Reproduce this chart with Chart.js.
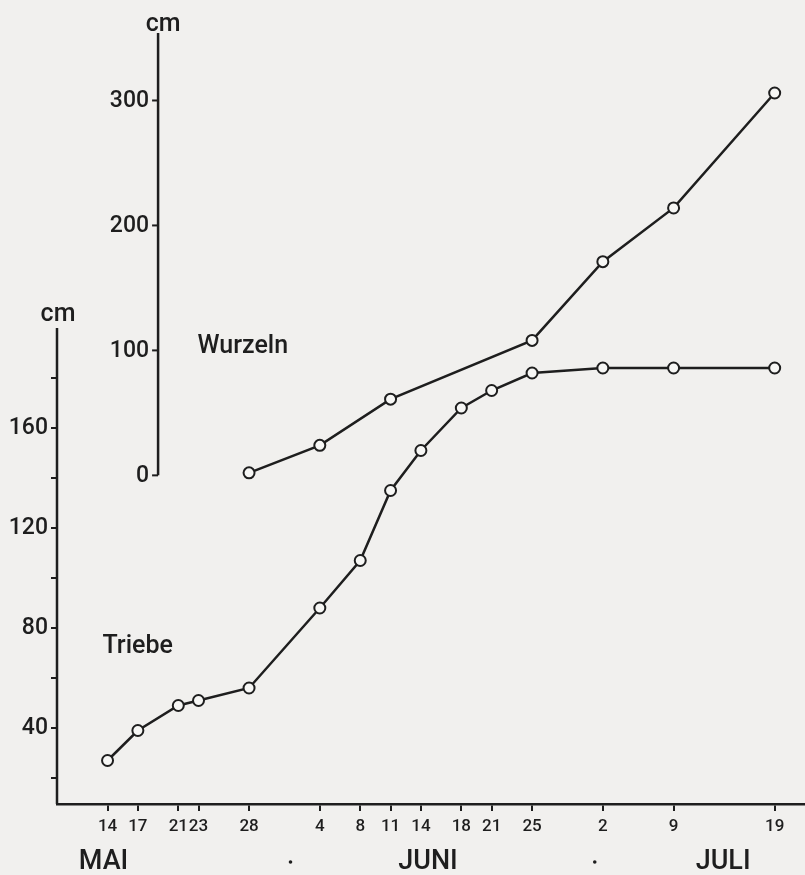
<!DOCTYPE html>
<html>
<head>
<meta charset="utf-8">
<script src="https://cdn.jsdelivr.net/npm/chart.js@4/dist/chart.umd.min.js"></script>
<style>
  html, body { margin: 0; padding: 0; background: #f1f0ee; }
  #wrap { width: 805px; height: 875px; position: relative; }
</style>
</head>
<body>
<div id="wrap"><canvas id="growthChart"></canvas></div>
<script>
// days counted from 14 May
const triebeDays = [0, 3, 7, 9, 14, 21, 25, 28, 31, 35, 38, 42, 49, 56, 66];
const triebeValues = [27, 39, 49, 51, 56, 88, 107, 135, 151, 168, 175, 182, 184, 184, 184];
const wurzelnDays = [14, 21, 28, 42, 49, 56, 66];
const wurzelnValues = [2, 24, 61, 108, 171, 214, 306];

const xTickDays = [0, 3, 7, 9, 14, 21, 25, 28, 31, 35, 38, 42, 49, 56, 66];
const xTickLabels = ['14', '17', '21', '23', '28', '4', '8', '11', '14', '18', '21', '25', '2', '9', '19'];
const monthNames = ['MAI', 'JUNI', 'JULI'];
const monthCenters = [-0.4, 31.7, 60.9];
const monthDots = [18.1, 48.2];

const leftTicks = [20, 40, 60, 80, 100, 120, 140, 160, 180];
const leftLabels = [40, 80, 120, 160];
const rightTicks = [0, 100, 200, 300];

const ink = '#1e1e1e';
const fontFamily = 'Roboto, "Liberation Sans", Arial, sans-serif';

document.addEventListener('DOMContentLoaded', function() {
    // axes, month names and series names drawn on top of the chart
    const extras = {
        id: 'extras',
        afterDraw(chart) {
            const c = chart.ctx;
            const x = chart.scales.x, y = chart.scales.y, y2 = chart.scales.y2;
            c.save();
            c.strokeStyle = ink;
            c.fillStyle = ink;
            c.lineWidth = 2.5;

            // left axis line (Triebe)
            const lx = chart.chartArea.left;
            c.beginPath();
            c.moveTo(lx, chart.chartArea.bottom);
            c.lineTo(lx, y.getPixelForValue(200));
            c.stroke();
            c.font = '500 25px ' + fontFamily;
            c.textAlign = 'center';
            c.textBaseline = 'alphabetic';
            c.fillText('cm', lx + 1, y.getPixelForValue(200) - 7);

            // Wurzeln axis
            const rx = x.getPixelForValue(5);
            c.beginPath();
            c.moveTo(rx, y2.getPixelForValue(0));
            c.lineTo(rx, chart.chartArea.top);
            c.stroke();
            c.lineWidth = 2;
            c.font = '500 23px ' + fontFamily;
            c.textAlign = 'right';
            c.textBaseline = 'middle';
            rightTicks.forEach(v => {
                const py = y2.getPixelForValue(v);
                c.beginPath();
                c.moveTo(rx - 6, py);
                c.lineTo(rx, py);
                c.stroke();
                c.fillText(String(v), rx - 9, py + 1);
            });
            c.font = '500 25px ' + fontFamily;
            c.textAlign = 'center';
            c.textBaseline = 'alphabetic';
            c.fillText('cm', rx + 5, chart.chartArea.top - 2);

            // series names
            c.font = '500 25px ' + fontFamily;
            c.textAlign = 'left';
            c.fillText('Wurzeln', x.getPixelForValue(8.9), y2.getPixelForValue(97.6));
            c.fillText('Triebe', x.getPixelForValue(-0.5), y.getPixelForValue(70));

            // months
            c.font = '500 27px ' + fontFamily;
            c.textAlign = 'center';
            c.textBaseline = 'middle';
            monthNames.forEach((m, i) => c.fillText(m, x.getPixelForValue(monthCenters[i]), 862));
            monthDots.forEach(d => {
                c.beginPath();
                c.arc(x.getPixelForValue(d), 862, 1.8, 0, Math.PI * 2);
                c.fill();
            });
            c.restore();
        }
    };

    const ctx = document.getElementById('growthChart').getContext('2d');
    new Chart(ctx, {
        type: 'line',
        data: {
            datasets: [{
                label: 'Triebe',
                data: triebeDays.map((d, i) => ({ x: d, y: triebeValues[i] })),
                yAxisID: 'y',
                borderColor: ink,
                borderWidth: 2.5,
                pointRadius: 5.5,
                pointBorderWidth: 2,
                pointBackgroundColor: '#f7f7f5',
                pointBorderColor: ink,
                tension: 0
            }, {
                label: 'Wurzeln',
                data: wurzelnDays.map((d, i) => ({ x: d, y: wurzelnValues[i] })),
                yAxisID: 'y2',
                borderColor: ink,
                borderWidth: 2.5,
                pointRadius: 5.5,
                pointBorderWidth: 2,
                pointBackgroundColor: '#f7f7f5',
                pointBorderColor: ink,
                tension: 0
            }]
        },
        options: {
            responsive: true,
            maintainAspectRatio: false,
            animation: false,
            layout: { autoPadding: false, padding: { top: 33, right: 0, left: 0, bottom: 0 } },
            plugins: { legend: { display: false }, tooltip: { enabled: false } },
            scales: {
                x: {
                    type: 'linear',
                    min: -5,
                    max: 69,
                    afterBuildTicks: scale => { scale.ticks = xTickDays.map(v => ({ value: v })); },
                    afterFit: scale => { scale.height = 71; },
                    ticks: {
                        autoSkip: false,
                        maxRotation: 0,
                        color: ink,
                        padding: 6,
                        font: { family: fontFamily, size: 17, weight: '500' },
                        callback: (v, i) => xTickLabels[i]
                    },
                    grid: { drawOnChartArea: false, tickLength: 7, color: ink, lineWidth: 2 },
                    border: { color: ink, width: 2.5 }
                },
                y: {
                    type: 'linear',
                    min: 9.6,
                    max: 318,
                    afterBuildTicks: scale => { scale.ticks = leftTicks.map(v => ({ value: v })); },
                    afterFit: scale => { scale.width = 57; },
                    ticks: {
                        color: ink,
                        padding: 3,
                        font: { family: fontFamily, size: 23, weight: '500' },
                        callback: v => leftLabels.includes(v) ? String(v) : ''
                    },
                    grid: { drawOnChartArea: false, tickLength: 6, color: ink, lineWidth: 2 },
                    border: { display: false }
                },
                y2: {
                    type: 'linear',
                    display: false,
                    min: -263,
                    max: 354
                }
            }
        },
        plugins: [extras]
    });
});
</script>
</body>
</html>
